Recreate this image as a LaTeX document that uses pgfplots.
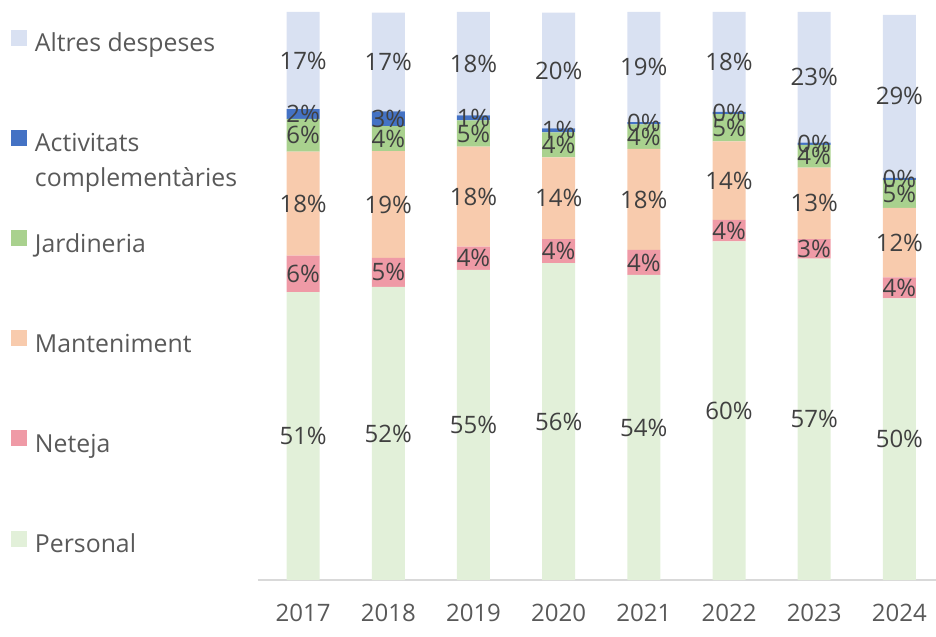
\documentclass[border=0pt]{standalone}
\usepackage{fontspec}
\setmainfont{Open Sans}
\usepackage{pgfplots}
\usepackage{pgfplotstable}
\pgfplotsset{compat=1.18}

\definecolor{cPersonal}{HTML}{E2F0D9}
\definecolor{cNeteja}{HTML}{EF9AA6}
\definecolor{cMant}{HTML}{F8CBAD}
\definecolor{cJard}{HTML}{A9D18E}
\definecolor{cActiv}{HTML}{4472C4}
\definecolor{cAltres}{HTML}{D9E1F2}
\definecolor{labtxt}{HTML}{404040}
\definecolor{legtxt}{HTML}{595959}
\definecolor{axisgray}{HTML}{D9D9D9}

\newcommand\chartfont{\fontsize{24bp}{35bp}\selectfont}
\newcommand\legfont{\fontsize{24.8bp}{35bp}\selectfont}

% share of each cost in the year's total, percent
\pgfplotstableread{
x personal neteja manteniment jardineria activitats altres
0 50.7 6.4 18.3 5.8 1.7 17.1
1 51.6 5.1 18.8 4.4 2.6 17.4
2 54.6 4.1 17.6 4.6 0.9 18.2
3 55.8 4.2 14.4 4.4 0.7 20.4
4 53.7 4.4 17.8 4.3 0.4 19.4
5 59.6 3.8 13.8 4.8 0.4 17.6
6 56.6 3.4 12.6 4.0 0.4 23.0
7 49.6 3.7 12.2 4.9 0.4 28.7
}\shares

\begin{document}
\begin{tikzpicture}
\path[use as bounding box] (-258bp,-57bp) rectangle (678bp,580bp);
\begin{axis}[
  at={(0,0)}, anchor=south west,
  scale only axis, width=678bp, height=568bp,
  ybar stacked, bar width=33bp,
  xmin=-0.53, xmax=7.43, ymin=0, ymax=100,
  axis y line=none, axis x line*=bottom,
  x axis line style={draw=axisgray, line width=2bp},
  xtick={0,...,7},
  xticklabels={2017,2018,2019,2020,2021,2022,2023,2024},
  major tick length=0pt,
  xticklabel style={font=\chartfont, text=legtxt, yshift=-21bp},
  /pgf/number format/assume math mode=true,
  point meta=explicit,
  nodes near coords={\pgfmathprintnumber[fixed,precision=0]{\pgfplotspointmeta}\%},
  every node near coord/.append style={anchor=center, font=\chartfont, text=labtxt},
  legend cell align=left,
  reverse legend,
  legend image code/.code={\fill[#1] (0bp,0bp) rectangle (16bp,16bp);},
  legend style={at={(axis description cs:-0.3643,0.969)}, anchor=north west,
    draw=none, fill=none, inner sep=0pt, outer sep=0pt,
    row sep=72.2bp, column sep=8bp,
    font=\legfont, text=legtxt,
    nodes={inner sep=0pt, text height=18bp, text depth=6bp}},
]
\addplot[fill=cPersonal, draw=none] table[x=x, y=personal, meta=personal] {\shares};
\addlegendentry{Personal}
\addplot[fill=cNeteja, draw=none] table[x=x, y=neteja, meta=neteja] {\shares};
\addlegendentry{Neteja}
\addplot[fill=cMant, draw=none] table[x=x, y=manteniment, meta=manteniment] {\shares};
\addlegendentry{Manteniment}
\addplot[fill=cJard, draw=none] table[x=x, y=jardineria, meta=jardineria] {\shares};
\addlegendentry{Jardineria}
\addplot[fill=cActiv, draw=none] table[x=x, y=activitats, meta=activitats] {\shares};
\addlegendentry{\smash{\begin{tabular}[t]{@{}l@{}}Activitats\\complementàries\end{tabular}}}
\addplot[fill=cAltres, draw=none] table[x=x, y=altres, meta=altres] {\shares};
\addlegendentry{Altres despeses}
\end{axis}
\end{tikzpicture}
\end{document}
